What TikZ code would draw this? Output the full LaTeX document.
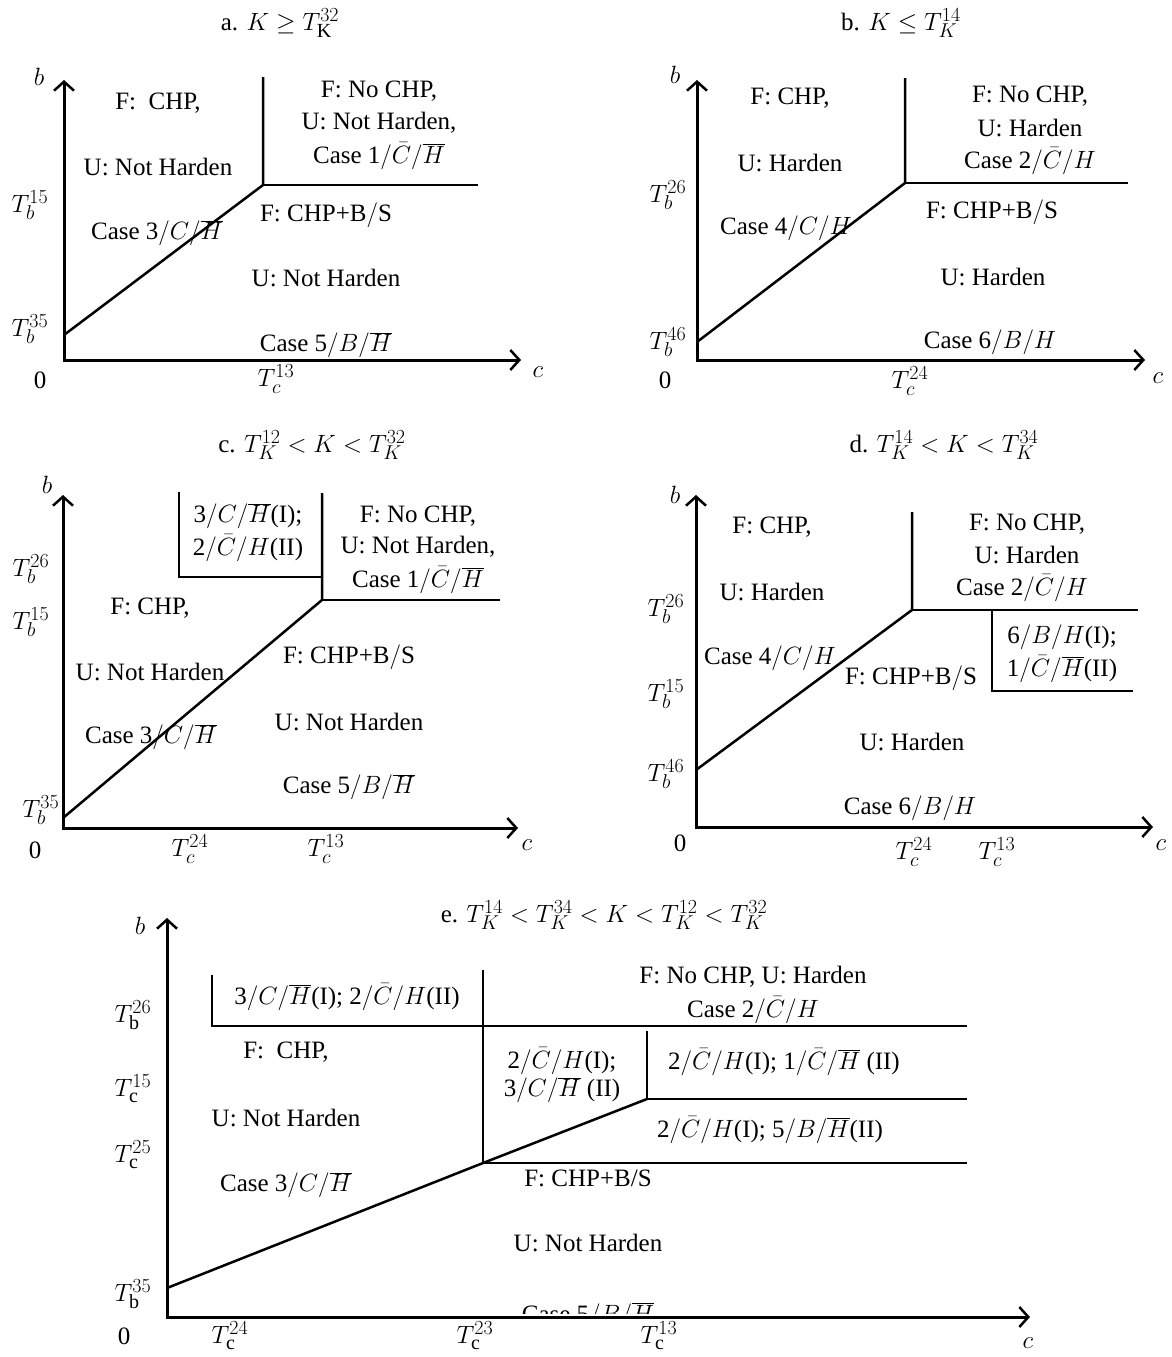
\RequirePackage{fix-cm}
\documentclass[tikz,border=0pt]{standalone}
\usepackage{fontspec}
\setmainfont{Liberation Serif}
\DeclareMathSizes{25}{25}{20}{15}
\usetikzlibrary{arrows.meta}
\tikzset{
  axisline/.style={line width=3pt, {Straight Barb[length=9pt,width=20pt,line width=2.5pt]}-{Straight Barb[length=9pt,width=20pt,line width=2.5pt]}},
  bound/.style={line width=2.5pt},
  txt/.style={font=\fontsize{25}{28}\selectfont, inner sep=0pt, align=center},
  ttl/.style={font=\fontsize{25}{28}\selectfont, inner sep=0pt},
  tick/.style={font=\fontsize{25}{28}\selectfont, inner sep=0pt}
}
\begin{document}
\begin{tikzpicture}[x=1pt,y=-1pt]
\useasboundingbox (0,0) rectangle (1172,1357);
\fill[white] (0,0) rectangle (1172,1357);

% ================= Panel a =================
\node[ttl] (aT) at (280,23) {a. $K \geq T_{\mathrm{K}}^{32}$};
\coordinate (aO) at (64,360);
\coordinate (aY) at (64,80);
\coordinate (aX) at (521,360);
\draw[axisline] (aY) -- (aO) -- (aX);
\node[tick] (ab) at (39,77) {$b$};
\node[tick] (ac) at (538,372) {$c$};
\node[tick] (a0) at (40,380) {0};
\node[tick] (aTc) at (276,379) {$T_c^{13}$};
\node[tick] (aTb15) at (30,205) {$T_b^{15}$};
\node[tick] (aTb35) at (30,329) {$T_b^{35}$};
\coordinate (aP1) at (64,335);
\coordinate (aP2) at (263,185);
\coordinate (aP3) at (263,77);
\coordinate (aP4) at (478,185);
\draw[bound] (aP1) -- (aP2) -- (aP3);
\draw[bound] (aP2) -- (aP4);
\node[txt] (a1) at (158,103) {F:\ \ CHP,};
\node[txt] (a2) at (158,167) {U: Not Harden};
\node[txt] (a3) at (157,233) {Case 3$/C/\overline{H}$};
\node[txt] (a4) at (379,91) {F: No CHP,};
\node[txt] (a5) at (379,123) {U: Not Harden,};
\node[txt] (a6) at (379,156) {Case 1$/\bar{C}/\overline{H}$};
\node[txt] (a7) at (326,215) {F: CHP+B$/$S};
\node[txt] (a8) at (326,278) {U: Not Harden};
\node[txt] (a9) at (326,345) {Case 5$/B/\overline{H}$};

% ================= Panel b =================
\node[ttl] (bT) at (901,23) {b. $K \leq T_{K}^{14}$};
\coordinate (bO) at (697,360);
\coordinate (bY) at (697,80);
\coordinate (bX) at (1145,360);
\draw[axisline] (bY) -- (bO) -- (bX);
\node[tick] (bb) at (675,75) {$b$};
\node[tick] (bc) at (1158,378) {$c$};
\node[tick] (b0) at (665,380) {0};
\node[tick] (bTc) at (910,381) {$T_c^{24}$};
\node[tick] (bTb26) at (668,195) {$T_b^{26}$};
\node[tick] (bTb46) at (668,342) {$T_b^{46}$};
\coordinate (bP1) at (697,342);
\coordinate (bP2) at (905,183);
\coordinate (bP3) at (905,78);
\coordinate (bP4) at (1128,183);
\draw[bound] (bP1) -- (bP2) -- (bP3);
\draw[bound] (bP2) -- (bP4);
\node[txt] (b1) at (790,98) {F: CHP,};
\node[txt] (b2) at (790,163) {U: Harden};
\node[txt] (b3) at (786,228) {Case 4$/C/H$};
\node[txt] (b4) at (1030,96) {F: No CHP,};
\node[txt] (b5) at (1030,128) {U: Harden};
\node[txt] (b6) at (1030,161) {Case 2$/\bar{C}/H$};
\node[txt] (b7) at (992,212) {F: CHP+B$/$S};
\node[txt] (b8) at (993,277) {U: Harden};
\node[txt] (b9) at (990,342) {Case 6$/B/H$};

% ================= Panel c =================
\node[ttl] (cT) at (312,445) {c. $T_{K}^{12} < K < T_{K}^{32}$};
\coordinate (cO) at (63,828);
\coordinate (cY) at (63,495);
\coordinate (cX) at (518,828);
\draw[axisline] (cY) -- (cO) -- (cX);
\node[tick] (cb) at (47,485) {$b$};
\node[tick] (cc) at (527,845) {$c$};
\node[tick] (c0) at (35,850) {0};
\node[tick] (cTc24) at (190,849) {$T_c^{24}$};
\node[tick] (cTc13) at (326,849) {$T_c^{13}$};
\node[tick] (cTb26) at (31,569) {$T_b^{26}$};
\node[tick] (cTb15) at (31,622) {$T_b^{15}$};
\node[tick] (cTb35) at (41,810) {$T_b^{35}$};
\coordinate (cP1) at (63,818);
\coordinate (cP2) at (322,600);
\coordinate (cP3) at (322,493);
\coordinate (cP4) at (500,600);
\coordinate (cQ1) at (179,492);
\coordinate (cQ2) at (179,577);
\coordinate (cQ3) at (322,577);
\draw[bound] (cP1) -- (cP2) -- (cP3);
\draw[bound] (cP2) -- (cP4);
\draw[bound] (cQ1) -- (cQ2) -- (cQ3);
\node[txt] (c1) at (248,516) {3$/C/\overline{H}$(I);};
\node[txt] (c2) at (248,548) {2$/\bar{C}/H$(II)};
\node[txt] (c3) at (418,516) {F: No CHP,};
\node[txt] (c4) at (418,547) {U: Not Harden,};
\node[txt] (c5) at (418,580) {Case 1$/\bar{C}/\overline{H}$};
\node[txt] (c6) at (150,608) {F: CHP,};
\node[txt] (c7) at (150,672) {U: Not Harden};
\node[txt] (c8) at (151,737) {Case 3$/C/\overline{H}$};
\node[txt] (c9) at (349,657) {F: CHP+B$/$S};
\node[txt] (c10) at (349,722) {U: Not Harden};
\node[txt] (c11) at (349,787) {Case 5$/B/\overline{H}$};

% ================= Panel d =================
\node[ttl] (dT) at (944,445) {d. $T_{K}^{14} < K < T_{K}^{34}$};
\coordinate (dO) at (696,827);
\coordinate (dY) at (696,495);
\coordinate (dX) at (1153,827);
\draw[axisline] (dY) -- (dO) -- (dX);
\node[tick] (db) at (675,495) {$b$};
\node[tick] (dc) at (1161,845) {$c$};
\node[tick] (d0) at (680,843) {0};
\node[tick] (dTc24) at (914,852) {$T_c^{24}$};
\node[tick] (dTc13) at (997,852) {$T_c^{13}$};
\node[tick] (dTb26) at (666,609) {$T_b^{26}$};
\node[tick] (dTb15) at (666,694) {$T_b^{15}$};
\node[tick] (dTb46) at (666,774) {$T_b^{46}$};
\coordinate (dP1) at (696,770);
\coordinate (dP2) at (912,610);
\coordinate (dP3) at (912,512);
\coordinate (dP4) at (1138,610);
\coordinate (dQ1) at (992,610);
\coordinate (dQ2) at (992,691);
\coordinate (dQ3) at (1133,691);
\draw[bound] (dP1) -- (dP2) -- (dP3);
\draw[bound] (dP2) -- (dP4);
\draw[bound] (dQ1) -- (dQ2) -- (dQ3);
\node[txt] (d1) at (1062,637) {6$/B/H$(I);};
\node[txt] (d2) at (1062,669) {1$/\bar{C}/\overline{H}$(II)};
\node[txt] (d3) at (772,527) {F: CHP,};
\node[txt] (d4) at (772,592) {U: Harden};
\node[txt] (d5) at (770,658) {Case 4$/C/H$};
\node[txt] (d6) at (1027,524) {F: No CHP,};
\node[txt] (d7) at (1027,555) {U: Harden};
\node[txt] (d8) at (1022,588) {Case 2$/\bar{C}/H$};
\node[txt] (d9) at (911,678) {F: CHP+B$/$S};
\node[txt] (d10) at (912,742) {U: Harden};
\node[txt] (d11) at (910,808) {Case 6$/B/H$};

% ================= Panel e =================
\node[ttl] (eT) at (604,915) {e. $T_{K}^{14} < T_{K}^{34} < K < T_{K}^{12} < T_{K}^{32}$};
\coordinate (eO) at (167,1317);
\coordinate (eY) at (167,918);
\coordinate (eX) at (1030,1317);
\draw[axisline] (eY) -- (eO) -- (eX);
\node[tick] (eb) at (140,926) {$b$};
\node[tick] (ec) at (1028,1343) {$c$};
\node[tick] (e0) at (124,1336) {0};
\node[tick] (eTc24) at (230,1336) {$T_{\mathrm{c}}^{24}$};
\node[tick] (eTc23) at (475,1336) {$T_{\mathrm{c}}^{23}$};
\node[tick] (eTc13) at (659,1336) {$T_{\mathrm{c}}^{13}$};
\node[tick] (eTb26) at (133,1015) {$T_{\mathrm{b}}^{26}$};
\node[tick] (eTc15) at (133,1089) {$T_{\mathrm{c}}^{15}$};
\node[tick] (eTc25) at (133,1155) {$T_{\mathrm{c}}^{25}$};
\node[tick] (eTb35) at (133,1294) {$T_{\mathrm{b}}^{35}$};
\coordinate (eP1) at (167,1288);
\coordinate (eP2) at (483,1163);
\coordinate (eP3) at (647,1099);
\coordinate (eV1) at (483,970);
\coordinate (eV2) at (647,1031);
\coordinate (eL1) at (212,975);
\coordinate (eL2) at (212,1026);
\coordinate (eR1) at (967,1026);
\coordinate (eR2) at (967,1099);
\coordinate (eR3) at (967,1163);
\draw[bound] (eP1) -- (eP2) -- (eP3);
\draw[bound] (eV1) -- (eP2) -- (eR3);
\draw[bound] (eL1) -- (eL2) -- (eR1);
\draw[bound] (eV2) -- (eP3) -- (eR2);
\node[txt] (e1) at (347,997) {3$/C/\overline{H}$(I); 2$/\bar{C}/H$(II)};
\node[txt] (e2) at (286,1052) {F:\ \ CHP,};
\node[txt] (e3) at (286,1118) {U: Not Harden};
\node[txt] (e4) at (286,1185) {Case 3$/C/\overline{H}$};
\node[txt] (e5) at (562,1061) {2$/\bar{C}/H$(I);};
\node[txt] (e6) at (562,1090) {3$/C/\overline{H}$ (II)};
\node[txt] (e7) at (753,977) {F: No CHP, U: Harden};
\node[txt] (e8) at (753,1010) {Case 2$/\bar{C}/H$};
\node[txt] (e9) at (784,1062) {2$/\bar{C}/H$(I); 1$/\bar{C}/\overline{H}$ (II)};
\node[txt] (e10) at (770,1130) {2$/\bar{C}/H$(I); 5$/B/\overline{H}$(II)};
\node[txt] (e11) at (588,1178) {F: CHP+B/S};
\node[txt] (e12) at (588,1243) {U: Not Harden};
\begin{scope}
\clip (400,1260) rectangle (800,1313);
\node[txt, anchor=base] (e13) at (588,1322) {Case 5$/B/\overline{H}$};
\end{scope}
\end{tikzpicture}
\end{document}
